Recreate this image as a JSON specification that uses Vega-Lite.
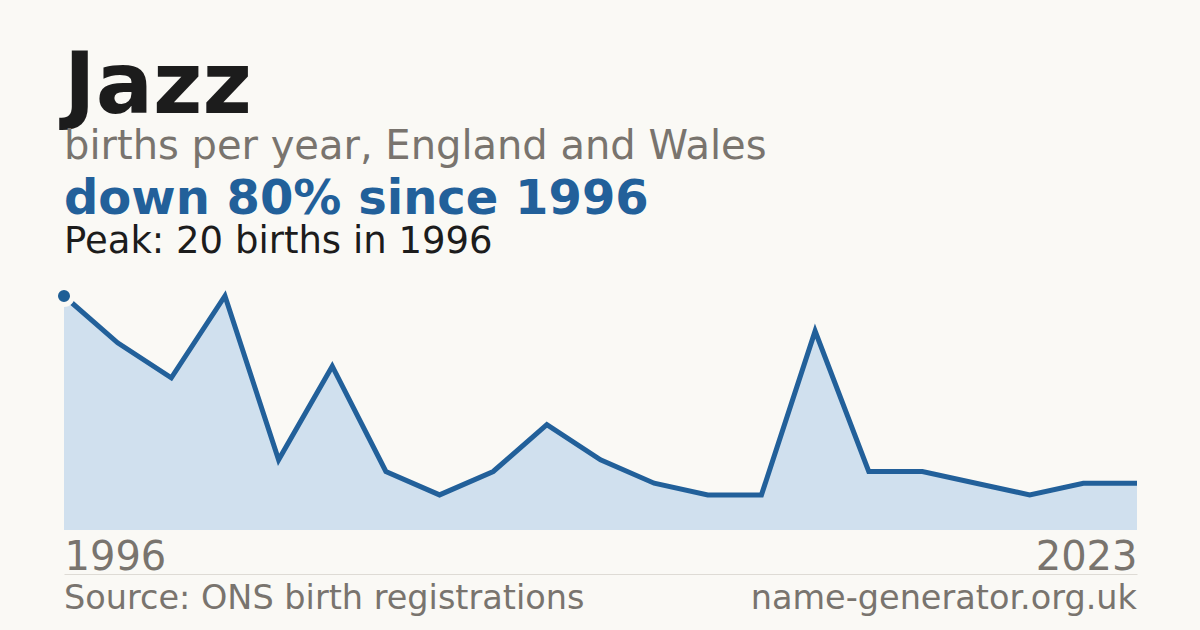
{
  "$schema": "https://vega.github.io/schema/vega-lite/v6.json",
  "width": 1073,
  "height": 234,
  "autosize": {"type": "none"},
  "padding": {"left": 64, "top": 296, "right": 63, "bottom": 100},
  "background": "#faf9f5",
  "config": {
    "view": {"stroke": null},
    "font": "DejaVu Sans",
    "text": {"font": "DejaVu Sans"}
  },
  "datasets": {
    "births": [
      {"year": 1996, "births": 20},
      {"year": 1997, "births": 16},
      {"year": 1998, "births": 13},
      {"year": 1999, "births": 20},
      {"year": 2000, "births": 6},
      {"year": 2001, "births": 14},
      {"year": 2003, "births": 5},
      {"year": 2004, "births": 3},
      {"year": 2005, "births": 5},
      {"year": 2007, "births": 9},
      {"year": 2008, "births": 6},
      {"year": 2010, "births": 4},
      {"year": 2011, "births": 3},
      {"year": 2013, "births": 3},
      {"year": 2014, "births": 17},
      {"year": 2016, "births": 5},
      {"year": 2017, "births": 5},
      {"year": 2019, "births": 4},
      {"year": 2020, "births": 3},
      {"year": 2022, "births": 4},
      {"year": 2023, "births": 4}
    ],
    "one": [{}]
  },
  "layer": [
    {
      "data": {"name": "births"},
      "mark": {"type": "area", "color": "#d0e0ee"},
      "encoding": {
        "x": {
          "field": "year",
          "type": "ordinal",
          "scale": {"type": "point", "padding": 0},
          "axis": {
            "values": [1996, 2023],
            "labelAngle": 0,
            "ticks": false,
            "tickSize": 0,
            "grid": false,
            "domain": true,
            "domainColor": "#dedbd5",
            "domainWidth": 1,
            "offset": 44,
            "labelPadding": -5,
            "labelBaseline": "alphabetic",
            "labelFont": "DejaVu Sans",
            "labelFontSize": 40,
            "labelColor": "#79746e",
            "labelAlign": {"condition": {"test": "datum.value == 1996", "value": "left"}, "value": "right"},
            "title": null
          }
        },
        "y": {
          "field": "births",
          "type": "quantitative",
          "scale": {"domain": [0, 20], "nice": false, "zero": true},
          "axis": null
        }
      }
    },
    {
      "data": {"name": "births"},
      "mark": {"type": "line", "color": "#22609a", "strokeWidth": 5, "strokeJoin": "miter"},
      "encoding": {
        "x": {"field": "year", "type": "ordinal"},
        "y": {"field": "births", "type": "quantitative"}
      }
    },
    {
      "data": {"name": "births"},
      "transform": [{"filter": "datum.year == 1996"}],
      "mark": {"type": "point", "filled": true, "fill": "#1f5f96", "fillOpacity": 1, "size": 290, "stroke": "#faf9f5", "strokeWidth": 5, "strokeOpacity": 1, "opacity": 1, "shape": "circle"},
      "encoding": {
        "x": {"field": "year", "type": "ordinal"},
        "y": {"field": "births", "type": "quantitative"}
      }
    },
    {
      "data": {"name": "one"},
      "mark": {"type": "text", "text": "Jazz", "fontSize": 85, "fontWeight": "bold", "color": "#1c1c1c", "align": "left", "baseline": "alphabetic"},
      "encoding": {"x": {"value": 0}, "y": {"value": -183}}
    },
    {
      "data": {"name": "one"},
      "mark": {"type": "text", "text": "births per year, England and Wales", "fontSize": 40, "color": "#79746e", "align": "left", "baseline": "alphabetic"},
      "encoding": {"x": {"value": 0}, "y": {"value": -137}}
    },
    {
      "data": {"name": "one"},
      "mark": {"type": "text", "text": "down 80% since 1996", "fontSize": 48, "fontWeight": "bold", "color": "#22609a", "align": "left", "baseline": "alphabetic"},
      "encoding": {"x": {"value": 0}, "y": {"value": -82}}
    },
    {
      "data": {"name": "one"},
      "mark": {"type": "text", "text": "Peak: 20 births in 1996", "fontSize": 37, "color": "#1c1c1c", "align": "left", "baseline": "alphabetic"},
      "encoding": {"x": {"value": 0}, "y": {"value": -43}}
    },
    {
      "data": {"name": "one"},
      "mark": {"type": "text", "text": "Source: ONS birth registrations", "fontSize": 33.5, "color": "#79746e", "align": "left", "baseline": "alphabetic"},
      "encoding": {"x": {"value": 0}, "y": {"value": 313}}
    },
    {
      "data": {"name": "one"},
      "mark": {"type": "text", "text": "name-generator.org.uk", "fontSize": 33.5, "color": "#79746e", "align": "right", "baseline": "alphabetic"},
      "encoding": {"x": {"value": 1073}, "y": {"value": 313}}
    }
  ]
}
